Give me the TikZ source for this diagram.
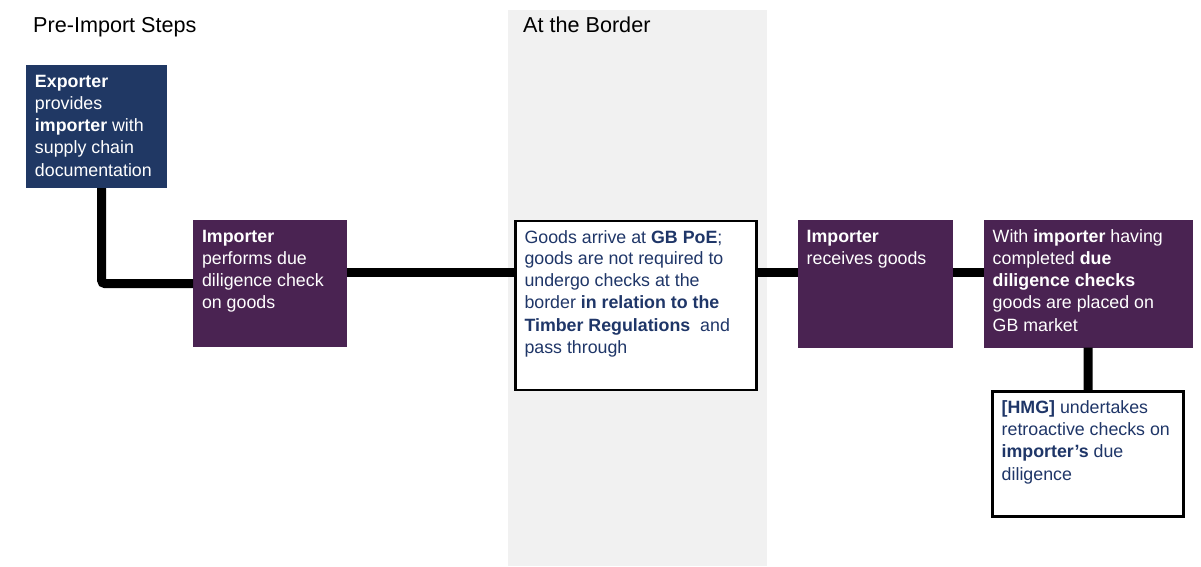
\documentclass[tikz,border=0pt]{standalone}
\usepackage{fontspec}
\setmainfont{Liberation Sans}
\definecolor{navyfill}{HTML}{203864}
\definecolor{purplefill}{HTML}{4A2352}
\definecolor{navytext}{HTML}{1F3668}
\definecolor{bandgrey}{HTML}{F1F1F1}
\newcommand\bxt[3]{\hspace*{9pt}\parbox[c][#2][t]{\dimexpr#1-12pt\relax}{\raggedright\fontsize{17.8}{22.3}\selectfont\vspace*{6.4pt}\strut #3}\hspace*{3pt}}
\tikzset{
  boxnode/.style={anchor=north west, inner sep=0pt, outer sep=0pt},
  navybox/.style={boxnode, fill=navyfill, text=white},
  purplebox/.style={boxnode, fill=purplefill, text=white},
  whitebox/.style={boxnode, fill=white, draw=black, line width=2.6pt, text=navytext},
  conn/.style={line width=9pt, black, rounded corners=3pt},
  heading/.style={anchor=base west, inner sep=0pt, font=\fontsize{21.6}{26}\selectfont}
}
\begin{document}
\begin{tikzpicture}[x=1pt,y=1pt]
\useasboundingbox (0,0) rectangle (1201,-566);
\fill[bandgrey] (508,-10) rectangle (767,-566);
\node[heading] (h1) at (33,-32.5) {Pre-Import Steps};
\node[heading] (h2) at (523,-32.5) {At the Border};

\node[navybox] (exp) at (26,-65) {\bxt{141pt}{123pt}{\textbf{Exporter}\\ provides\\ \textbf{importer} with\\ supply chain\\ documentation}};
\node[purplebox] (imp) at (193,-220) {\bxt{154pt}{127pt}{\textbf{Importer}\\ performs due\\ diligence check\\ on goods}};
\node[whitebox] (bord) at (515.5,-221) {\bxt{241pt}{169pt}{\vspace*{-1.2pt}Goods arrive at \textbf{GB PoE};\\ goods are not required to\\ undergo checks at the\\ border \textbf{in relation to the}\\ \textbf{Timber Regulations}\ \ and\\ pass through}};
\node[purplebox] (rec) at (797.7,-220) {\bxt{155pt}{127.7pt}{\textbf{Importer}\\ receives goods}};
\node[purplebox] (mkt) at (983.7,-220) {\bxt{209pt}{127.7pt}{With \textbf{importer} having\\ completed \textbf{due}\\ \textbf{diligence checks}\\ goods are placed on\\ GB market}};
\node[whitebox] (hmg) at (992.7,-391.3) {\bxt{190.6pt}{124.9pt}{\textbf{[HMG]} undertakes\\ retroactive checks on\\ \textbf{importer’s} due\\ diligence}};

\coordinate (mainy) at (0,-272);
\coordinate (expx) at (101.7,0);
\draw[conn] (exp.south -| expx) |- (imp.west);
\draw[conn] (imp.east |- mainy) -- (bord.west |- mainy);
\draw[conn] (bord.east |- mainy) -- (rec.west |- mainy);
\draw[conn] (rec.east |- mainy) -- (mkt.west |- mainy);
\draw[conn] (mkt.south) -- (hmg.north);
\end{tikzpicture}
\end{document}
